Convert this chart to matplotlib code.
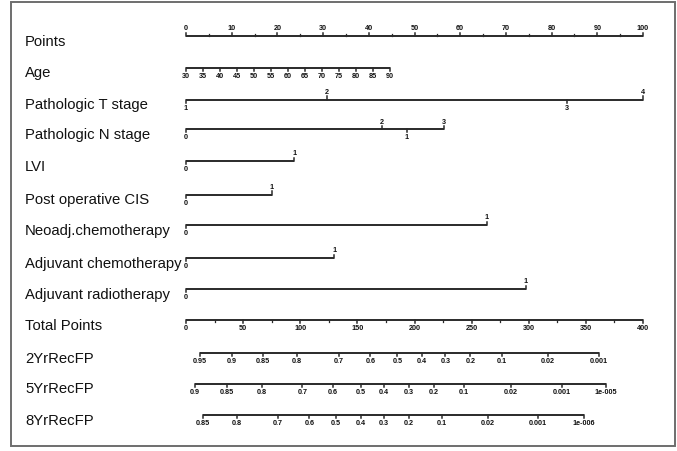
import matplotlib.pyplot as plt
from matplotlib.patches import Rectangle

plt.rcParams["font.family"] = ["Liberation Sans", "DejaVu Sans"]

# row names, top to bottom
rows = ["Points", "Age", "Pathologic T stage", "Pathologic N stage", "LVI",
        "Post operative CIS", "Neoadj.chemotherapy", "Adjuvant chemotherapy",
        "Adjuvant radiotherapy", "Total Points", "2YrRecFP", "5YrRecFP", "8YrRecFP"]

# points scale
points_ticks = list(range(0, 101, 10))

# age: 30..90 maps to 0..44.6 points
age_ticks = list(range(30, 91, 5))
age_max_points = 44.6

# categorical predictors: (labels, points, label above?)
t_labels = ["1", "2", "3", "4"]
t_points = [0, 30.8, 83.4, 100]
t_above = [False, True, False, True]

n_labels = ["0", "1", "2", "3"]
n_points = [0, 48.3, 42.8, 56.5]
n_above = [False, False, True, True]

binary_points = {
    "LVI": 23.7,
    "Post operative CIS": 18.8,
    "Neoadj.chemotherapy": 65.8,
    "Adjuvant chemotherapy": 32.4,
    "Adjuvant radiotherapy": 74.3,
}

# total points
total_ticks = list(range(0, 401, 50))

# probability scales: label -> total points
yr2_labels = ["0.95", "0.9", "0.85", "0.8", "0.7", "0.6", "0.5", "0.4", "0.3",
              "0.2", "0.1", "0.02", "0.001"]
yr2_total = [12.3, 40.1, 67.7, 97.4, 134, 161.3, 185, 206.3, 227, 249, 276.6,
             317, 361.2]

yr5_labels = ["0.9", "0.85", "0.8", "0.7", "0.6", "0.5", "0.4", "0.3", "0.2",
              "0.1", "0.02", "0.001", "1e-005"]
yr5_total = [7.9, 35.6, 66.3, 101.8, 128.7, 153, 173.3, 195, 217.1, 243.3,
             284.5, 328.8, 367.6]

yr8_labels = ["0.85", "0.8", "0.7", "0.6", "0.5", "0.4", "0.3", "0.2", "0.1",
              "0.02", "0.001", "1e-006"]
yr8_total = [14.6, 44.9, 80.3, 108, 131.3, 153, 173.3, 195.4, 223.8, 264.5,
             308, 348.4]

# layout in pixels
W, H = 677, 452
X0, PX_PER_POINT = 186, 4.57
row_y = [37, 68.5, 100.5, 130, 162, 195.5, 226, 259, 290, 321, 354, 384.5, 416]
LINE = "#2a2a2a"
TICK = 3.3
TICK_FS = 5.2


def px(p):
    return X0 + p * PX_PER_POINT


fig = plt.figure(figsize=(W / 100, H / 100), dpi=100)
ax = fig.add_axes([0, 0, 1, 1])
ax.set_xlim(0, W)
ax.set_ylim(H, 0)
ax.axis("off")

ax.add_patch(Rectangle((10.5, 2.5), 664, 444, fill=False, edgecolor="#6e6e6e", lw=1.4))


def draw_axis(y, pts, labels, above, minor=()):
    ax.plot([px(min(pts)), px(max(pts))], [y, y], color=LINE, lw=1.4,
            solid_capstyle="butt")
    for p, lab, up in zip(pts, labels, above):
        d = -TICK if up else TICK
        ax.plot([px(p), px(p)], [y, y + d], color=LINE, lw=1.1)
        ty = y - TICK - 1.2 if up else y + TICK + 1.2
        ax.text(px(p), ty, lab, ha="center", va="bottom" if up else "top",
                fontsize=TICK_FS, fontweight="bold", color="#111")
    for p, up in minor:
        d = -TICK * 0.6 if up else TICK * 0.6
        ax.plot([px(p), px(p)], [y, y + d], color=LINE, lw=0.9)


for name, y in zip(rows, row_y):
    ax.text(25, y + 5, name, ha="left", va="center", fontsize=10.7, color="#111")

# Points
draw_axis(row_y[0], points_ticks, [str(v) for v in points_ticks],
          [True] * len(points_ticks), minor=[(v + 5, True) for v in points_ticks[:-1]])

# Age
age_pts = [(a - age_ticks[0]) / (age_ticks[-1] - age_ticks[0]) * age_max_points
           for a in age_ticks]
draw_axis(row_y[1], age_pts, [str(a) for a in age_ticks], [False] * len(age_ticks))

draw_axis(row_y[2], t_points, t_labels, t_above)
draw_axis(row_y[3], n_points, n_labels, n_above)

for i, name in enumerate(rows[4:9]):
    draw_axis(row_y[4 + i], [0, binary_points[name]], ["0", "1"], [False, True])

# Total points
tot_pts = [t / 4 for t in total_ticks]
draw_axis(row_y[9], tot_pts, [str(t) for t in total_ticks], [False] * len(tot_pts),
          minor=[(t / 4 + 6.25, False) for t in total_ticks[:-1]])

for y, labs, tot in [(row_y[10], yr2_labels, yr2_total),
                     (row_y[11], yr5_labels, yr5_total),
                     (row_y[12], yr8_labels, yr8_total)]:
    draw_axis(y, [t / 4 for t in tot], labs, [False] * len(labs))

fig.savefig("out.png", dpi=100, facecolor="white")
